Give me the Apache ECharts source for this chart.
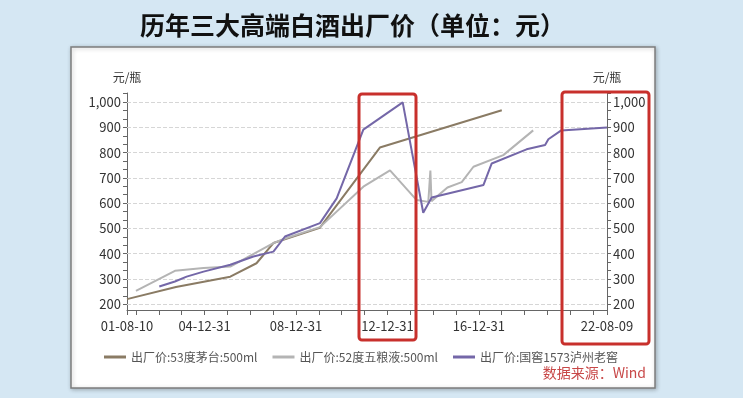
<!DOCTYPE html>
<html>
<head>
<meta charset="utf-8">
<script src="https://cdn.jsdelivr.net/npm/echarts@6/dist/echarts.min.js"></script>
<style>
    html, body { margin: 0; padding: 0; background: #d5e7f3; }
    #chart { width: 743px; height: 398px; }
</style>
</head>
<body>
<div id="chart"></div>
<script>
// 53度茅台
var moutaiDates = ['2001-08-10', '2003-10-01', '2006-02-15', '2007-04-10', '2008-01-05', '2010-01-15', '2012-09-01', '2018-01-01'];
var moutaiPrices = [220, 268, 309, 362, 442, 502, 820, 968];

// 52度五粮液
var wlyDates = ['2001-12-31', '2003-09-15', '2004-12-15', '2006-02-15', '2008-01-05', '2008-07-08', '2010-01-18',
    '2011-12-12', '2013-02-10', '2014-04-12', '2014-10-15', '2014-11-17', '2014-12-05', '2015-08-17',
    '2016-04-01', '2016-10-05', '2018-01-25', '2019-05-18'];
var wlyPrices = [253, 332, 343, 349, 442, 460, 505, 665, 730, 612, 605, 729, 608, 662, 683, 744, 790, 888];

// 国窖1573
var gjDates = ['2003-01-08', '2003-09-15', '2004-03-20', '2004-12-15', '2006-02-15', '2007-02-20', '2008-01-05',
    '2008-07-08', '2010-01-18', '2010-10-12', '2011-12-12', '2013-09-01', '2014-07-26', '2014-12-08',
    '2017-03-15', '2017-07-24', '2019-02-01', '2019-11-24', '2020-01-15', '2020-08-08', '2022-08-09'];
var gjPrices = [270, 290, 309, 329, 356, 389, 408, 468, 521, 619, 891, 999, 562, 622, 672, 757, 813, 830, 853, 888, 899];

// axis
var xStart = '2001-08-10';
var xEnd = '2022-08-09';
var xLabelDates = ['2001-08-10', '2004-12-31', '2008-12-31', '2012-12-31', '2016-12-31', '2022-08-09'];
var yLabels = [200, 300, 400, 500, 600, 700, 800, 900, 1000];

var seriesNames = ['出厂价:53度茅台:500ml', '出厂价:52度五粮液:500ml', '出厂价:国窖1573泸州老窖'];
var colors = ['#8a7b64', '#b4b4b4', '#7467a8'];

function ts(s) {
    var p = s.split('-');
    return Date.UTC(+p[0], p[1] - 1, +p[2]);
}
function pair(dates, vals) {
    return dates.map(function (d, i) { return [ts(d), vals[i]]; });
}
function pad(n) { return n < 10 ? '0' + n : '' + n; }
function fmtDate(v) {
    var d = new Date(v);
    return pad(d.getUTCFullYear() % 100) + '-' + pad(d.getUTCMonth() + 1) + '-' + pad(d.getUTCDate());
}

// ticks: each year end + both ends
var xTicks = [ts(xStart)];
for (var y = 2001; y <= 2021; y++) xTicks.push(ts(y + '-12-31'));
xTicks.push(ts(xEnd));

var yTicks = [];
for (var k = 0; k <= 25; k++) yTicks.push(200 + k * 100 / 3);

var font = 'Noto Sans CJK SC';

function yAxisOpt(pos) {
    return {
        type: 'value',
        position: pos,
        min: 177,
        max: 1036,
        name: '元/瓶',
        nameGap: 10,
        nameTextStyle: { color: '#333', fontSize: 12, fontFamily: font },
        axisLine: { show: true, lineStyle: { color: '#666' } },
        axisTick: { show: true, length: 4, customValues: yTicks, lineStyle: { color: '#666' } },
        axisLabel: {
            customValues: yLabels,
            color: '#333',
            fontSize: 13,
            margin: 6,
            fontFamily: font,
            formatter: function (v) { return v >= 1000 ? '1,' + ('' + v).slice(1) : '' + v; }
        },
        splitLine: { show: false }
    };
}

function lineSeries(name, data, color) {
    return {
        name: name,
        type: 'line',
        z: 3,
        data: data,
        showSymbol: false,
        lineStyle: { width: 2, color: color },
        itemStyle: { color: color }
    };
}

var myChart = echarts.init(document.getElementById('chart'));

var option = {
    backgroundColor: '#d5e7f3',
    animation: false,
    textStyle: { fontFamily: font },
    title: [{
        text: '历年三大高端白酒出厂价（单位：元）',
        left: 135,
        top: 8,
        textStyle: { fontSize: 25, fontWeight: 'bold', color: '#111', fontFamily: font }
    }, {
        text: '数据来源：Wind',
        right: 92,
        top: 361,
        textStyle: { fontSize: 14, fontWeight: 'normal', color: '#c84848', fontFamily: font }
    }],
    graphic: [{
        type: 'rect',
        z: -1,
        shape: { x: 71, y: 47, width: 584, height: 341 },
        style: {
            fill: '#fff', stroke: '#7d7d7d', lineWidth: 1.5,
            shadowBlur: 4, shadowColor: 'rgba(0,0,0,0.25)', shadowOffsetX: 1, shadowOffsetY: 1
        }
    }, {
        type: 'rect',
        z: 100,
        shape: { x: 359, y: 94, width: 57, height: 246, r: 3 },
        style: { fill: 'none', stroke: '#c8302c', lineWidth: 3 }
    }, {
        type: 'rect',
        z: 100,
        shape: { x: 562, y: 92, width: 87, height: 252, r: 3 },
        style: { fill: 'none', stroke: '#c8302c', lineWidth: 3 }
    }],
    legend: {
        data: seriesNames,
        left: 99,
        top: 346,
        icon: 'rect',
        itemWidth: 22,
        itemHeight: 3,
        itemGap: 15,
        textStyle: { color: '#555', fontSize: 12, fontFamily: font }
    },
    grid: { left: 127, right: 136, top: 93, bottom: 88 },
    xAxis: {
        type: 'value',
        min: ts(xStart),
        max: ts(xEnd),
        axisLine: { lineStyle: { color: '#666' } },
        axisTick: { show: true, length: 5, customValues: xTicks, lineStyle: { color: '#666' } },
        axisLabel: {
            customValues: xLabelDates.map(ts),
            color: '#333',
            fontSize: 13,
            margin: 10,
            fontFamily: font,
            formatter: fmtDate
        },
        splitLine: { show: false }
    },
    yAxis: [yAxisOpt('left'), yAxisOpt('right')],
    series: [{
        // horizontal dashed gridlines, kept under the price lines
        name: 'grid',
        type: 'line',
        z: 1,
        data: [],
        markLine: {
            z: 1,
            silent: true,
            symbol: 'none',
            label: { show: false },
            lineStyle: { type: 'dashed', color: '#d6d6d6', width: 1 },
            data: yLabels.map(function (v) { return { yAxis: v }; })
        }
    },
        lineSeries(seriesNames[0], pair(moutaiDates, moutaiPrices), colors[0]),
        lineSeries(seriesNames[1], pair(wlyDates, wlyPrices), colors[1]),
        lineSeries(seriesNames[2], pair(gjDates, gjPrices), colors[2])
    ]
};

myChart.setOption(option);
</script>
</body>
</html>
